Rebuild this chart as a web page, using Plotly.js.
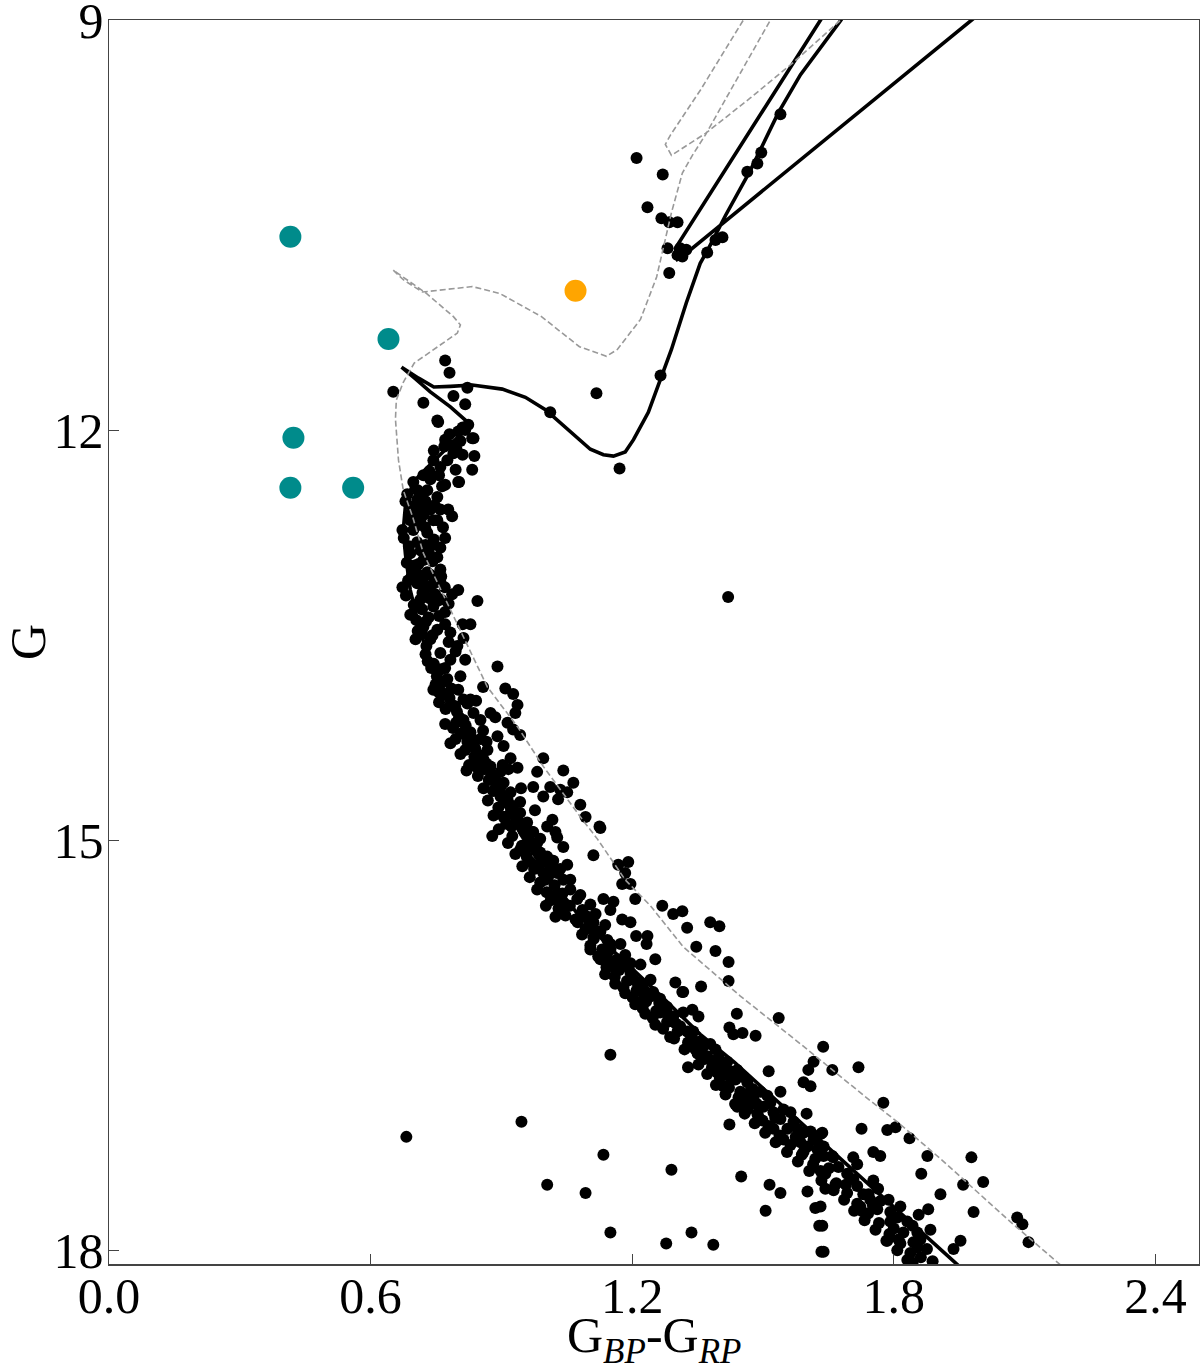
<!DOCTYPE html>
<html><head><meta charset="utf-8">
<script src="https://cdn.plot.ly/plotly-3.0.1.min.js"></script>
<style>html,body{margin:0;padding:0;background:#fff}#chart{width:1200px;height:1372px}</style>
</head><body><div id="chart"></div>
<script>
// Colour index (G_BP - G_RP) and G magnitude pairs, per region of the CMD
const starsGiants = [
 [1.21,10.01],[1.27,10.13],[1.235,10.37],[1.267,10.45],[1.285,10.48],[1.304,10.48],[1.281,10.67],[1.31,10.67],
 [1.324,10.68],[1.304,10.72],[1.315,10.73],[1.285,10.85],[1.407,10.59],[1.391,10.61],[1.372,10.70],[1.464,10.11],
 [1.487,10.05],[1.496,9.97],[1.54,9.69],[1.118,11.73],[1.012,11.87],[1.265,11.60],[1.171,12.28],[0.771,11.49],
 [0.781,11.58],[0.652,11.72],[0.822,11.69],[0.79,11.75],[0.721,11.80],[0.817,11.81],[0.753,11.93],[0.801,12.01],
 [0.811,11.98],[0.833,12.06],[0.838,12.19],[0.833,12.29],[0.801,12.38],[1.42,13.22]
];
const starsTurnoff = [
 [0.755,11.94],[0.817,12.00],[0.824,11.96],[0.836,12.06],[0.771,12.07],[0.787,12.11],[0.806,12.08],[0.811,12.18],
 [0.790,12.17],[0.803,12.38],[0.776,12.22],[0.760,12.27],[0.744,12.22],[0.698,12.38],[0.721,12.33],[0.737,12.36],
 [0.764,12.41],[0.753,12.49],[0.730,12.44],[0.684,12.47],[0.707,12.51],[0.696,12.56],[0.778,12.58],[0.787,12.63],
 [0.737,12.58],[0.753,12.66],[0.714,12.66],[0.673,12.73],[0.698,12.73],[0.730,12.75],[0.771,12.79],[0.760,12.86],
 [0.737,12.85],[0.707,12.82],[0.691,12.90],[0.721,12.95],[0.753,12.93],[0.698,13.02],[0.730,13.04],[0.760,13.02],
 [0.673,13.15],[0.707,13.12],[0.737,13.14],[0.760,13.11],[0.801,13.17],[0.787,13.20],[0.845,13.25],[0.714,13.24],
 [0.744,13.29],[0.771,13.33],[0.721,13.44],[0.753,13.46],[0.783,13.48],[0.811,13.42],[0.829,13.42],
 [0.714,12.58],[0.726,12.84],[0.710,12.98],[0.726,13.16],[0.691,13.35],[0.703,13.53],[0.744,12.66],[0.771,12.40],
 [0.795,12.29],[0.714,12.47],[0.691,12.66],[0.748,13.20],[0.771,13.42],
 [0.680,12.52],[0.701,12.60],[0.676,12.79],[0.688,12.85],[0.683,12.97],[0.694,13.07],[0.681,13.21],[0.699,13.28],
 [0.718,13.31],[0.733,13.37],[0.708,13.47],[0.742,13.50],[0.728,13.58],[0.715,12.88],[0.742,12.96],[0.766,12.71],
 [0.747,12.55],[0.725,12.71],[0.762,13.07],[0.719,13.19],
 [0.745,12.15],[0.769,12.12],[0.781,12.03],[0.797,12.14],[0.735,12.30],[0.757,12.33],[0.708,12.44],[0.726,12.52],
 [0.760,12.58],[0.745,12.80],[0.701,12.99],[0.738,13.06],[0.752,13.25],[0.770,13.15],[0.727,13.40],
 [0.688,12.62],[0.705,12.70],[0.722,12.62],[0.734,12.90],[0.705,13.04],[0.719,13.09],[0.686,13.10],[0.745,13.12],
 [0.762,13.24],[0.735,13.23],[0.705,13.39],[0.757,13.36],[0.779,13.27],[0.718,13.49]
];
const starsUpperMS = [
 [0.799,13.58],[0.813,13.52],[0.891,13.73],[0.737,13.53],[0.760,13.63],[0.783,13.68],[0.753,13.77],[0.776,13.82],
 [0.806,13.80],[0.817,13.68],[0.858,13.88],[0.909,13.89],[0.927,13.93],[0.787,14.01],[0.813,13.97],[0.836,14.07],
 [0.852,14.12],[0.875,14.07],[0.886,14.10],[0.937,14.01],[0.932,14.07],[0.914,14.14],[0.927,14.19],[0.943,14.23],
 [0.813,14.12],[0.829,14.21],[0.852,14.26],[0.868,14.34],[0.891,14.24],[0.905,14.31],[0.852,14.41],[0.875,14.46],
 [0.898,14.50],[0.921,14.40],[0.916,14.48],[0.996,14.40],[0.982,14.50],[1.042,14.49],[0.973,14.61],[0.996,14.68],
 [1.012,14.61],[1.035,14.63],[1.065,14.58],[1.081,14.74],[1.093,14.83],[1.125,14.90],[0.820,14.49],[0.879,14.97],
 [0.905,14.83],[0.927,14.78],[0.898,14.61],[0.914,14.70],[0.943,14.72],[0.950,14.90],[0.973,14.94],[0.989,14.99],
 [1.005,14.90],[1.024,14.94],
 [0.726,13.64],[0.744,13.90],[0.771,14.15],[0.795,14.26],[0.817,14.34],[0.829,13.97],[0.801,13.90],
 [0.745,13.71],[0.762,13.75],[0.731,13.69],[0.749,13.86],[0.768,13.93],[0.785,13.89],[0.757,13.99],[0.772,14.04],
 [0.798,14.06],[0.789,14.18],[0.808,14.22],[0.783,14.29],[0.822,14.28],[0.806,14.37],[0.838,14.39],[0.826,14.45],
 [0.861,14.48],[0.846,14.53],[0.871,14.56],[0.859,14.62],[0.795,13.62],[0.779,13.55],[0.842,13.98],[0.858,14.20],
 [0.752,13.80],[0.739,13.74],[0.766,13.84],[0.781,13.96],[0.794,14.02],[0.803,14.10],[0.818,14.16],[0.831,14.25],
 [0.840,14.33],[0.853,14.38],[0.866,14.44],[0.877,14.52],[0.889,14.57],[0.897,14.66],[0.908,14.72],[0.921,14.80],
 [0.933,14.84],[0.951,14.93],[0.771,13.74],[0.822,14.00],[0.866,14.28],[0.903,14.45],[0.945,14.62],[0.977,14.78],
 [1.017,14.85],[0.757,13.92],[0.796,14.14],[0.841,14.46],[0.881,14.64],[0.923,14.90]
];
const starsMidMS = [
 [0.937,14.47],[1.030,14.70],[1.051,14.65],[1.127,14.91],[1.111,15.11],[0.966,15.16],[0.996,15.24],[1.028,14.98],
 [1.042,15.05],[1.051,15.18],[1.168,15.18],[1.191,15.16],[1.184,15.24],[1.177,15.32],[1.196,15.32],[1.207,15.43],
 [1.134,15.43],[1.157,15.45],[1.150,15.51],[1.269,15.48],[1.294,15.54],[1.315,15.52],[1.326,15.64],[1.379,15.60],
 [1.400,15.63],[1.347,15.78],[1.391,15.81],[1.421,15.89],[1.421,16.03],[1.209,15.70],[1.235,15.70],[1.233,15.76],
 [1.253,15.87],[1.177,15.58],[1.196,15.60],[1.111,15.71],[1.358,16.07],[1.299,16.04],[1.315,16.11],[1.440,16.27],
 [1.536,16.30],[1.423,16.37],[1.432,16.42],[1.453,16.41],[1.483,16.43],[1.638,16.51],[1.287,16.44],[1.226,16.16],
 [1.264,16.26],
 [0.783,14.01],[0.806,14.12],[0.822,14.21],[0.836,14.31],[0.859,14.41],[0.905,14.58],[0.921,14.65],[0.898,14.68],
 [0.927,14.75],[0.943,14.80],[0.959,14.87],[0.971,14.94],[0.982,15.02],[0.989,15.09],[1.005,15.12],[1.012,15.19],
 [1.028,15.24],[1.042,15.29],[1.058,15.36],[1.074,15.43],[1.086,15.51],[1.097,15.56],[1.111,15.60],[1.127,15.67],
 [1.143,15.73],[1.150,15.80],[1.166,15.87],[1.180,15.92],[1.196,15.97],[1.212,16.04],[1.226,16.09],[1.248,16.11],
 [1.264,16.16],[1.280,16.22],[1.294,16.29],[1.310,16.36],[1.326,16.40],[1.340,16.48],[0.847,14.41],[0.907,14.83],
 [1.161,15.94],
 [0.943,15.07],[0.966,15.03],[1.001,15.29],[1.024,15.40],[1.046,15.47],[1.070,15.58],[1.093,15.65],[1.104,15.80],
 [1.127,15.87],[1.138,15.98],[1.161,16.05],[1.184,16.12],[1.207,16.20],[1.230,16.27],[1.253,16.35],[1.035,15.21],
 [1.058,15.29],[1.081,15.40],[1.104,15.47],[1.116,15.54],[1.138,15.62],[1.173,15.76],[1.184,15.84],[1.219,15.91],
 [1.242,16.02],
 [0.884,14.63],[0.869,14.71],[0.893,14.76],[0.882,14.82],[0.911,14.88],[0.894,14.92],[0.925,14.97],[0.915,15.02],
 [0.947,15.04],[0.932,15.10],[0.958,15.12],[0.948,15.19],[0.975,15.21],[0.965,15.27],[0.989,15.31],[0.982,15.36],
 [1.004,15.38],[1.013,15.44],[1.002,15.48],[1.031,15.50],[1.024,15.56],[1.047,15.55],[0.938,14.86],[0.962,14.96],
 [1.019,15.15],
 [0.963,15.00],[0.978,15.07],[0.994,15.16],[1.010,15.25],[1.022,15.33],[1.040,15.39],[1.057,15.48],[0.955,15.06],
 [0.985,15.18],[1.031,15.44],
 [1.075,15.60],[1.098,15.64],[1.085,15.69],[1.112,15.72],[1.104,15.77],[1.131,15.80],[1.122,15.85],[1.149,15.88],
 [1.141,15.93],[1.170,15.95],[1.160,16.00],[1.188,16.03],[1.180,16.08],[1.210,16.10],[1.201,16.15],[1.232,16.18],
 [1.224,16.23],[1.255,16.25],[1.247,16.30],[1.280,16.33],[1.271,16.38],[1.304,16.40],[1.296,16.45],[1.328,16.48],
 [1.320,16.53],[1.350,16.56],[1.366,16.60],[1.352,16.64],[1.140,15.83],[1.203,16.02],[1.262,16.19],
 [1.091,15.55],[1.116,15.66],[1.150,15.76],[1.177,15.88],[1.196,15.90],[1.222,16.07],[1.245,16.14],[1.281,16.27],
 [1.300,16.34],[1.336,16.44],[1.361,16.52]
];
const starsLowerMS = [
 [1.317,16.11],[1.328,16.66],[1.616,16.62],[1.604,16.68],[1.659,16.68],[1.719,16.66],[1.513,16.69],[1.593,16.77],
 [1.609,16.80],[1.600,17.00],[1.776,16.92],[1.726,17.11],[1.785,17.12],[1.804,17.10],[1.423,17.08],
 [1.317,16.26],[1.338,16.24],[1.352,16.29],[1.340,16.40],[1.333,16.48],[1.356,16.47],[1.345,16.53],[1.379,16.49],
 [1.391,16.53],[1.372,16.58],[1.386,16.62],[1.402,16.65],[1.418,16.62],[1.395,16.70],[1.425,16.69],[1.441,16.68],
 [1.455,16.73],[1.437,16.75],[1.409,16.80],[1.464,16.77],[1.476,16.82],[1.448,16.84],[1.494,16.84],[1.510,16.87],
 [1.540,16.84],[1.478,16.89],[1.501,16.95],[1.517,16.92],[1.487,17.00],[1.464,16.97],[1.441,16.95],[1.524,16.99],
 [1.547,16.97],[1.540,17.04],[1.563,16.99],[1.570,17.06],[1.556,17.11],[1.579,17.11],[1.524,17.11],[1.593,17.14],
 [1.609,17.13],[1.632,17.15],[1.586,17.21],[1.602,17.24],[1.616,17.19],[1.625,17.26],[1.639,17.24],[1.659,17.31],
 [1.593,17.28],[1.707,17.32],[1.753,17.28],[1.769,17.31],
 [1.383,16.66],[1.372,16.71],[1.401,16.74],[1.392,16.79],[1.422,16.81],[1.414,16.86],[1.444,16.88],[1.436,16.93],
 [1.466,16.95],[1.458,17.00],[1.489,17.02],[1.481,17.07],[1.513,17.09],[1.505,17.14],[1.538,17.16],[1.529,17.21],
 [1.563,17.23],[1.555,17.28],[1.589,17.30],[1.580,17.35],[1.615,17.37],[1.606,17.42],[1.643,17.44],[1.634,17.49],
 [1.668,17.51],[1.662,17.56],[1.410,16.70],[1.455,16.90],[1.499,17.05],[1.547,17.19],
 [1.398,16.59],[1.425,16.74],[1.470,16.84],[1.486,16.93],[1.528,17.03],[1.575,17.17],[1.620,17.33],[1.651,17.40],
 [1.690,17.52],[1.742,17.59]
];
const starsFaintMS = [
 [1.836,17.18],[1.877,17.31],[1.978,17.32],[1.863,17.44],[1.959,17.52],[2.005,17.50],[1.907,17.59],[1.983,17.72],
 [2.083,17.76],[2.095,17.81],[2.109,17.94],[1.879,17.70],[1.857,17.74],[1.884,17.85],[1.953,17.93],[1.937,17.99],
 [1.785,17.93],[1.811,17.92],[1.854,17.98],[1.843,18.09],[1.889,18.08],[1.716,17.37],[1.643,17.55],[1.636,17.14],
 [1.632,17.24],[1.639,17.31],[1.632,17.42],[1.666,17.52],[1.632,17.68],[1.636,17.82],[1.639,18.01],
 [1.661,17.32],[1.673,17.39],[1.693,17.44],[1.707,17.48],[1.716,17.53],[1.753,17.49],[1.764,17.55],[1.730,17.59],
 [1.746,17.63],[1.723,17.68],[1.769,17.64],[1.788,17.63],[1.762,17.70],[1.792,17.72],[1.815,17.68],[1.808,17.76],
 [1.831,17.79],[1.843,17.82],[1.822,17.87],[1.854,17.87],[1.861,17.92],[1.845,17.94],[1.792,17.79],[1.726,17.71],
 [1.693,17.58],[1.686,17.63],[1.716,17.66],[1.709,17.71],[1.741,17.73],[1.733,17.78],[1.766,17.80],[1.758,17.85],
 [1.790,17.88],[1.783,17.93],[1.815,17.95],[1.808,18.00],[1.838,18.02],[1.831,18.07],[1.862,18.05],[1.876,17.99],
 [1.752,17.67],[1.800,17.84]
];
const starsField = [
 [1.005,17.52],[1.093,17.58],[1.150,17.87],[1.278,17.95],[1.336,17.87],[1.386,17.96],[1.450,17.46],[1.515,17.52],
 [1.540,17.58],[1.506,17.71],[1.602,17.57],[1.620,17.69],[1.629,17.82],[1.634,18.01],[1.290,17.41],[1.134,17.30],
 [0.682,17.17],[0.946,17.06],[1.150,16.57]
];
// Special stars
const blueStragglerBPRP = [0.416, 0.641, 0.423, 0.416, 0.560];
const blueStragglerG    = [10.586, 11.333, 12.056, 12.421, 12.421];
const yellowStarBPRP = [1.070];
const yellowStarG    = [10.981];

// Isochrone 1 (solid black)
const iso1 = [
 [1.965,18.16],[1.863,17.867],[1.737,17.502],[1.661,17.282],[1.561,16.990],[1.434,16.624],[1.356,16.42],[1.267,16.142],
 [1.160,15.820],[1.075,15.54],[1.005,15.25],[0.945,14.96],[0.895,14.67],[0.845,14.37],[0.800,14.08],[0.750,13.79],
 [0.716,13.50],[0.691,13.17],[0.680,12.91],[0.675,12.73],[0.680,12.55],[0.698,12.38],[0.725,12.29],[0.760,12.18],
 [0.794,12.07],[0.829,11.96],[0.783,11.83],[0.737,11.72],[0.705,11.63],[0.671,11.54],[0.710,11.62],[0.745,11.685],
 [0.783,11.68],[0.833,11.67],[0.902,11.70],[0.955,11.76],[1.001,11.85],[1.054,12.00],[1.104,12.14],[1.134,12.18],
 [1.157,12.19],[1.184,12.16],[1.203,12.07],[1.237,11.87],[1.265,11.63],[1.290,11.41],[1.324,11.07],[1.356,10.78],
 [1.377,10.66],[1.414,10.43],[1.471,10.10],[1.535,9.68],[1.586,9.40],[1.679,9.00],[1.746,8.63],[1.705,8.63],
 [1.632,9.00],[1.299,10.67],[1.304,10.75],[1.315,10.73],[1.395,10.52],[1.978,9.00],[2.067,8.77]
];
// Isochrone 2 (dashed grey)
const iso2 = [
 [2.198,18.15],[2.178,18.094],[2.067,17.79],[1.907,17.33],[1.808,17.06],[1.740,16.89],[1.586,16.49],[1.448,16.14],
 [1.317,15.78],[1.242,15.48],[1.184,15.29],[1.120,14.99],[1.086,14.85],[0.996,14.46],[0.937,14.17],[0.868,13.88],
 [0.813,13.51],[0.755,13.12],[0.721,12.90],[0.696,12.63],[0.675,12.44],[0.664,12.22],[0.657,11.92],[0.659,11.78],
 [0.675,11.65],[0.700,11.51],[0.746,11.41],[0.799,11.29],[0.806,11.23],[0.790,11.17],[0.728,11.00],[0.652,10.83],
 [0.675,10.90],[0.719,10.99],[0.833,10.95],[0.896,11.00],[0.992,11.17],[1.079,11.39],[1.141,11.46],[1.166,11.41],
 [1.219,11.19],[1.256,10.88],[1.290,10.41],[1.315,10.12],[1.338,9.99],[1.368,9.84],[1.414,9.58],[1.478,9.22],
 [1.517,9.00],[1.563,8.71],[1.494,8.71],[1.455,9.00],[1.357,9.51],[1.288,9.84],[1.276,9.91],[1.290,9.99],
 [1.368,9.83],[1.471,9.57],[1.570,9.31],[1.675,9.01],[1.769,8.63]
];
const xTicks = [0, 0.6, 1.2, 1.8, 2.4];
const xTickText = ['0.0', '0.6', '1.2', '1.8', '2.4'];
const yTicks = [9, 12, 15, 18];
const yTickText = ['9', '12', '15', '18'];

const stars = [].concat(starsGiants, starsTurnoff, starsUpperMS, starsMidMS, starsLowerMS, starsFaintMS, starsField);
const FONT = 'Liberation Serif, Times New Roman, serif';

const traces = [
 {type:'scatter', mode:'lines', x: iso1.map(p=>p[0]), y: iso1.map(p=>p[1]),
  line:{color:'#000', width:3.6}, hoverinfo:'skip'},
 {type:'scatter', mode:'markers', x: stars.map(p=>p[0]), y: stars.map(p=>p[1]),
  marker:{color:'#000', size:12, line:{width:0}}, hoverinfo:'skip'},
 {type:'scatter', mode:'lines', x: iso2.map(p=>p[0]), y: iso2.map(p=>p[1]),
  line:{color:'#999999', width:1.6, dash:'6px,3px'}, hoverinfo:'skip'},
 {type:'scatter', mode:'markers', x: blueStragglerBPRP, y: blueStragglerG,
  marker:{color:'#008B8B', size:22, line:{width:0}}, hoverinfo:'skip'},
 {type:'scatter', mode:'markers', x: yellowStarBPRP, y: yellowStarG,
  marker:{color:'#FFA500', size:22, line:{width:0}}, hoverinfo:'skip'}
];

const axisCommon = {
 showgrid:false, zeroline:false, showline:true, mirror:true, linecolor:'#444', linewidth:1.5,
 ticks:'inside', ticklen:10, tickwidth:1.2, tickcolor:'#444', ticklabeloverflow:'allow',
 tickfont:{family:FONT, size:50, color:'#000'}
};

const layout = {
 width:1200, height:1372,
 margin:{l:109, r:1, t:20, b:108},
 paper_bgcolor:'#fff', plot_bgcolor:'#fff', showlegend:false,
 xaxis: Object.assign({}, axisCommon, {
   range:[0, 2.5], tickvals:xTicks, ticktext:xTickText, ticklabelstandoff:-13
 }),
 yaxis: Object.assign({}, axisCommon, {
   range:[18.1, 9], tickvals:yTicks, ticktext:yTickText, ticklabelstandoff:-6,
   title:{text:'G', font:{family:FONT, size:50, color:'#000'}, standoff:8}
 }),
 annotations:[{
   text:'G<sub><i>BP</i></sub>-G<sub><i>RP</i></sub>', xref:'paper', yref:'paper',
   x:0.5, y:-0.033, xanchor:'center', yanchor:'top', showarrow:false,
   font:{family:FONT, size:50, color:'#000'}
 }]
};

Plotly.newPlot('chart', traces, layout, {displayModeBar:false, staticPlot:true});
</script>
</body></html>
